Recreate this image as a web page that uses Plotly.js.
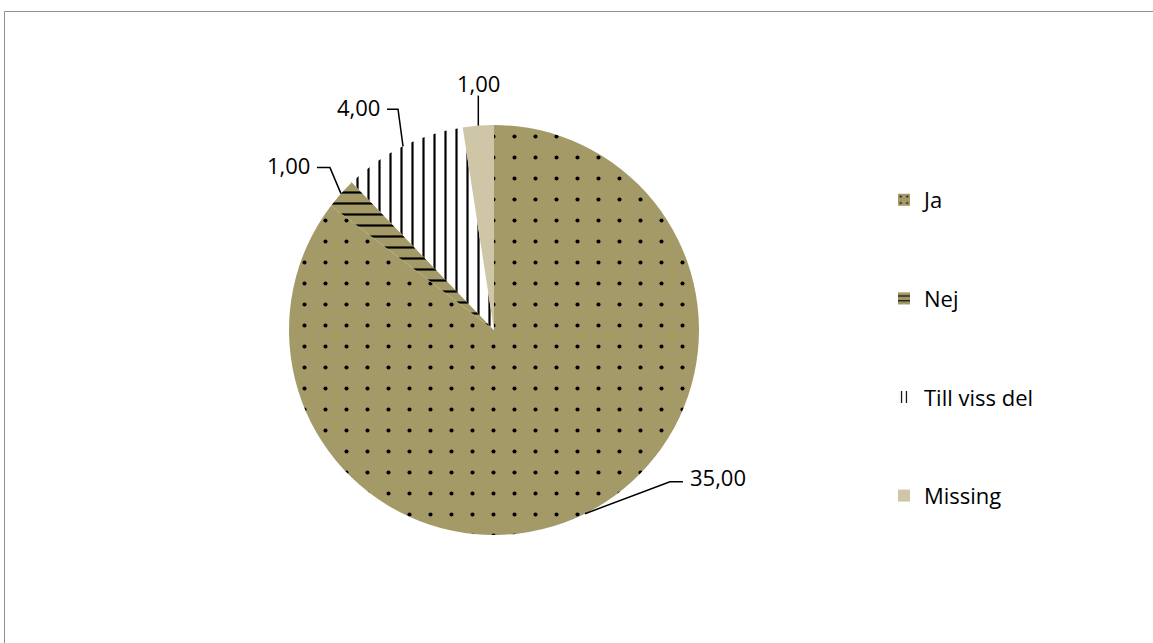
<!DOCTYPE html>
<html>
<head>
<meta charset="utf-8">
<script src="https://cdn.plot.ly/plotly-3.0.1.min.js"></script>
<style>
  html, body { margin: 0; padding: 0; background: #ffffff; overflow: hidden; }
  #chart { width: 1153px; height: 643px; }
</style>
</head>
<body>
<div id="chart"></div>
<script>
// Answer categories and counts
const categories = ['Ja', 'Nej', 'Till viss del', 'Missing'];
const counts = [35, 1, 4, 1];
const valueLabels = ['35,00', '1,00', '4,00', '1,00'];

// Slice styling
const sliceColors = ['#A39A68', '#A39A68', '#FFFFFF', '#CEC6A6'];
const patternShapes = ['.', '-', '|', ''];
const patternSizes = [21, 11, 11, 11];
const patternSolidity = [0.03, 0.2, 0.2, 0.2];

const W = 1153, H = 643;
const CX = 494, CY = 330, R = 205;   // pie centre and radius in pixels

const px = x => x / W;
const py = y => 1 - y / H;

// Leader-line layout for each label: elbow/end/text offsets from the slice edge point
const leaderLayout = [
  { elbow: [85, -32], end: [98, -32], anchor: 'left', text: [103, -37] },
  { elbow: [-11, -26], end: [-24, -26], anchor: 'right', text: [-29, -29] },
  { elbow: [-5, -37], end: [-16, -37], anchor: 'right', text: [-21, -39] },
  { elbow: [0, -30], end: [0, -30], anchor: 'center', text: [0, -43] }
];

const total = counts.reduce((a, b) => a + b, 0);
const shapes = [];
const annotations = [];
let cum = 0;
counts.forEach((v, i) => {
  const mid = (cum + v / 2) / total * 2 * Math.PI;  // clockwise from 12 o'clock
  cum += v;
  const ex = CX + R * Math.sin(mid);
  const ey = CY - R * Math.cos(mid);
  const L = leaderLayout[i];
  const bx = ex + L.elbow[0], by = ey + L.elbow[1];
  const fx = ex + L.end[0], fy = ey + L.end[1];
  shapes.push({
    type: 'path', xref: 'paper', yref: 'paper',
    path: `M ${px(ex)} ${py(ey)} L ${px(bx)} ${py(by)} L ${px(fx)} ${py(fy)}`,
    line: { color: '#000000', width: 1.5 }
  });
  annotations.push({
    xref: 'paper', yref: 'paper',
    x: px(ex + L.text[0]), y: py(ey + L.text[1]),
    xanchor: L.anchor, yanchor: 'middle',
    text: valueLabels[i], showarrow: false,
    font: { family: 'Open Sans, sans-serif', size: 22, color: '#000000' }
  });
});

// Chart-area frame
shapes.push({
  type: 'rect', xref: 'paper', yref: 'paper',
  x0: px(4.5), x1: 1.05, y0: -0.05, y1: py(11.5),
  line: { color: '#8F8F8F', width: 1 }, fillcolor: 'rgba(0,0,0,0)'
});

const pie = {
  type: 'pie',
  labels: categories,
  values: counts,
  sort: false,
  direction: 'clockwise',
  rotation: 0,
  textinfo: 'none',
  hoverinfo: 'label+value',
  showlegend: false,
  domain: { x: [px(CX - R), px(CX + R)], y: [py(CY + R), py(CY - R)] },
  marker: {
    colors: sliceColors,
    line: { color: '#FFFFFF', width: 0 },
    pattern: {
      shape: patternShapes,
      fgcolor: '#000000',
      bgcolor: sliceColors,
      fgopacity: 1,
      size: patternSizes,
      solidity: patternSolidity
    }
  }
};

// Legend entries (one per category, grouped so they can be spaced apart)
const legendTraces = categories.map((c, i) => ({
  type: 'bar',
  x: [null], y: [null],
  name: c,
  legendgroup: 'g' + i,
  showlegend: true,
  hoverinfo: 'skip',
  marker: {
    color: sliceColors[i],
    line: { width: 0 },
    pattern: {
      shape: patternShapes[i],
      fgcolor: '#000000',
      bgcolor: sliceColors[i],
      fgopacity: 1,
      size: patternSizes[i] === 21 ? 8 : 6,
      solidity: patternSolidity[i] === 0.03 ? 0.08 : 0.25
    }
  }
}));

const layout = {
  width: W, height: H,
  margin: { l: 0, r: 0, t: 0, b: 0 },
  paper_bgcolor: '#FFFFFF',
  plot_bgcolor: 'rgba(0,0,0,0)',
  xaxis: { visible: false, fixedrange: true },
  yaxis: { visible: false, fixedrange: true },
  showlegend: true,
  legend: {
    x: px(884), y: py(179), xanchor: 'left', yanchor: 'top',
    traceorder: 'grouped',
    tracegroupgap: 67,
    font: { family: 'Open Sans, sans-serif', size: 22, color: '#000000' },
    bgcolor: 'rgba(0,0,0,0)'
  },
  shapes: shapes,
  annotations: annotations
};

Plotly.newPlot('chart', [pie].concat(legendTraces), layout, { displayModeBar: false, staticPlot: true });
</script>
</body>
</html>
